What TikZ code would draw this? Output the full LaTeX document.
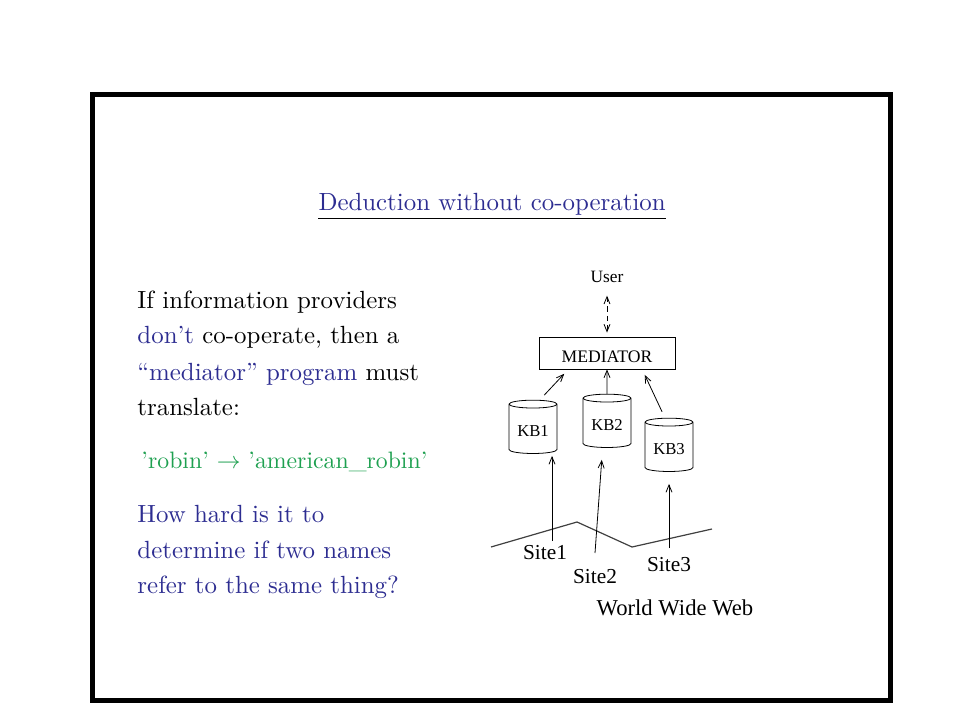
\documentclass[tikz,border=0pt]{standalone}
\usepackage{xcolor}
\usepackage{fontspec}
\newfontfamily\figfont{Liberation Serif}
\usetikzlibrary{arrows.meta,shapes.geometric}
\definecolor{slideblue}{RGB}{45,45,145}
\definecolor{slidegreen}{RGB}{30,160,80}
\tikzset{
	slideline/.style={anchor=base west,inner sep=0pt,scale=1.865,font=\fontsize{10}{12}\selectfont},
	kbstore/.style={draw,shape=cylinder,shape border rotate=90,aspect=.25,minimum width=36pt,minimum height=40pt,inner sep=0pt,line width=.6pt,font=\figfont\fontsize{12.5}{14}\selectfont},
	sitelabel/.style={inner sep=0pt,font=\figfont\fontsize{16}{18}\selectfont},
	link/.style={-{Straight Barb[length=5.5pt,width=4.5pt]},line width=.6pt}
}
\begin{document}
\begin{tikzpicture}[x=.75pt,y=-.75pt]
	\useasboundingbox (0,0) rectangle (960,720);
	\draw[line width=3.6pt] (92.5,94.5) rectangle (890.5,700.5);

	\node[slideline,text=slideblue,inner ysep=.8pt] (title) at (318,211){Deduction without co-operation};
	\draw[line width=.6pt] (title.south west) to (title.south east);

	\node[slideline] (lineone) at (137,309){If information providers};
	\node[slideline] (linetwo) at (137,344){\textcolor{slideblue}{don't} co-operate, then a};
	\node[slideline] (linethree) at (137,380){\textcolor{slideblue}{``mediator'' program} must};
	\node[slideline] (linefour) at (137,415){translate:};
	\node[slideline,scale=.955,text=slidegreen] (robin) at (141,468){'robin' $\rightarrow$ 'american\_robin'};
	\node[slideline,text=slideblue] (hard) at (137,522){How hard is it to};
	\node[slideline,text=slideblue] (determine) at (137,558){determine if two names};
	\node[slideline,text=slideblue] (refer) at (137,593){refer to the same thing?};

	\node[inner sep=0pt,font=\figfont\fontsize{13}{15}\selectfont] (user) at (607,277){User};
	\node[draw,line width=.6pt,minimum width=102pt,minimum height=24pt,inner sep=0pt,font=\figfont\fontsize{13.2}{15}\selectfont] (mediator) at (607,353){\raisebox{-7.4pt}[0pt][0pt]{MEDIATOR}};
	\node[kbstore] (kbone) at (533,429){\raisebox{-5.6pt}[0pt][0pt]{KB1}};
	\node[kbstore] (kbtwo) at (607,423){\raisebox{-5.6pt}[0pt][0pt]{KB2}};
	\node[kbstore] (kbthree) at (669,447){\raisebox{-5.6pt}[0pt][0pt]{KB3}};

	\node[sitelabel] (siteone) at (545,553){Site1};
	\node[sitelabel] (sitetwo) at (595,577){Site2};
	\node[sitelabel] (sitethree) at (669,565){Site3};
	\node[sitelabel,font=\figfont\fontsize{17}{19}\selectfont] (www) at (675,608){World Wide Web};

	\coordinate (footone) at (552,541);
	\coordinate (foottwo) at (595,553);
	\coordinate (footthree) at (669,548);

	\draw[line width=.9pt,black!75] (491,547) to (577,522) to (632,547) to (712,529);

	\draw[link,{Straight Barb[length=5.5pt,width=4.5pt]}-{Straight Barb[length=5.5pt,width=4.5pt]},dash pattern=on 4pt off 3pt,shorten <=9.5pt,shorten >=3pt] (user) to (mediator);
	\draw[link,shorten <=5pt,shorten >=4.5pt] (kbone.77) to (mediator.-157);
	\draw[link] (kbtwo.north) to (mediator.south);
	\draw[link,shorten <=5pt,shorten >=4.5pt] (kbthree.98) to (mediator.-25);
	\draw[link,shorten >=1.5pt] (footone) to (footone |- kbone.south);
	\draw[link,shorten >=9pt] (foottwo) to (kbtwo.-100);
	\draw[link,shorten >=9pt] (footthree) to (footthree |- kbthree.south);
\end{tikzpicture}
\end{document}
